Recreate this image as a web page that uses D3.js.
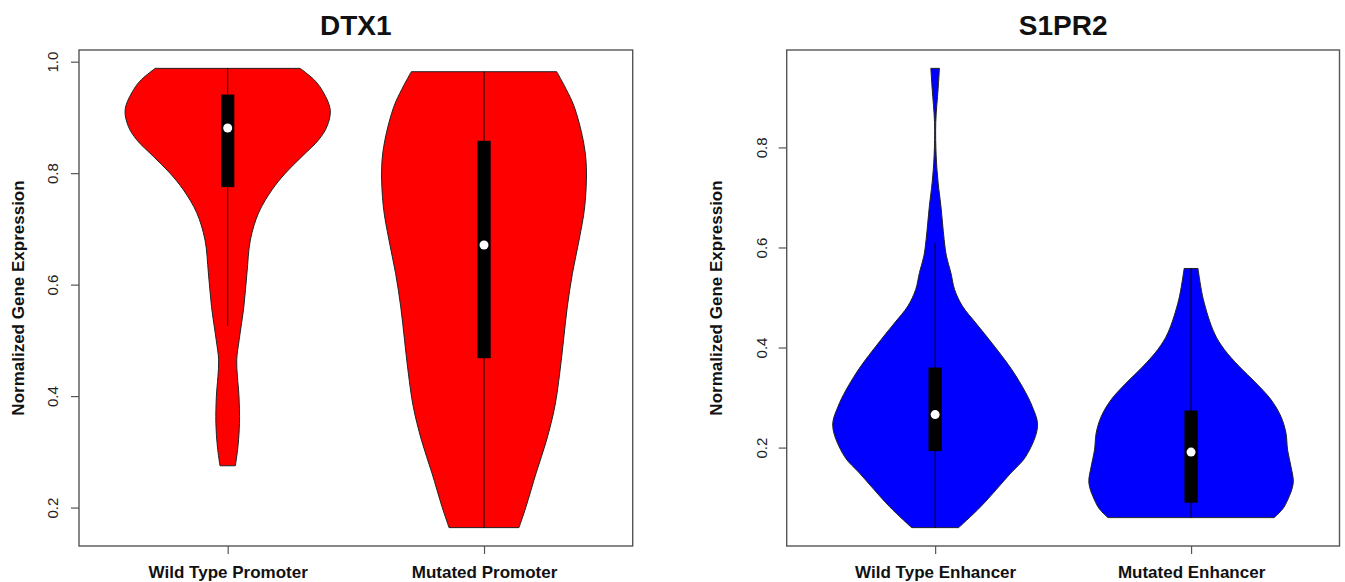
<!DOCTYPE html>
<html>
<head>
<meta charset="utf-8">
<script src="https://cdn.jsdelivr.net/npm/d3@7"></script>
<style>
  html, body { margin: 0; padding: 0; background: #fff; }
  svg { display: block; }
  text { font-family: "Liberation Sans", Arial, sans-serif; }
</style>
</head>
<body>
<svg id="chart" width="1345" height="582"></svg>
<script>
// ---------------- DATA ----------------
const titles = ["DTX1", "S1PR2"];
const categoriesDTX1 = ["Wild Type Promoter", "Mutated Promoter"];
const categoriesS1PR2 = ["Wild Type Enhancer", "Mutated Enhancer"];
const yTicksDTX1 = [0.2, 0.4, 0.6, 0.8, 1.0];
const yTicksS1PR2 = [0.2, 0.4, 0.6, 0.8];
const yLabel = "Normalized Gene Expression";

// violin outlines: [value, relative density (1 = widest)]
const densityWTPromoter = [
  [0.988, 0.707], [0.968, 0.84], [0.950, 0.917], [0.914, 1.0], [0.884, 0.969],
  [0.860, 0.888], [0.830, 0.725], [0.800, 0.563], [0.770, 0.432], [0.729, 0.302],
  [0.680, 0.221], [0.621, 0.188], [0.561, 0.158], [0.501, 0.112], [0.465, 0.088],
  [0.435, 0.095], [0.400, 0.110], [0.351, 0.115], [0.309, 0.100], [0.275, 0.075]
];
const densityMutPromoter = [
  [0.982, 0.709], [0.950, 0.803], [0.920, 0.878], [0.860, 0.966], [0.812, 0.998],
  [0.740, 0.982], [0.680, 0.927], [0.620, 0.862], [0.560, 0.812], [0.500, 0.775],
  [0.441, 0.738], [0.381, 0.690], [0.321, 0.610], [0.262, 0.508], [0.200, 0.407],
  [0.164, 0.341]
];
const densityWTEnhancer = [
  [0.958, 0.042], [0.917, 0.029], [0.850, 0.006], [0.783, 0.010], [0.730, 0.029],
  [0.683, 0.056], [0.616, 0.088], [0.583, 0.110], [0.550, 0.153], [0.516, 0.190],
  [0.483, 0.266], [0.449, 0.397], [0.416, 0.527], [0.349, 0.771], [0.282, 0.949],
  [0.242, 1.0], [0.182, 0.885], [0.149, 0.739], [0.082, 0.446], [0.040, 0.229]
];
const densityMutEnhancer = [
  [0.558, 0.068], [0.496, 0.120], [0.429, 0.227], [0.396, 0.325], [0.362, 0.471],
  [0.329, 0.634], [0.296, 0.780], [0.262, 0.878], [0.229, 0.927], [0.195, 0.943],
  [0.162, 0.976], [0.129, 0.998], [0.095, 0.943], [0.077, 0.894], [0.060, 0.813]
];

// box stats: [lower whisker, Q1, median, Q3, upper whisker]
const statsWTPromoter = [0.526, 0.775, 0.881, 0.941, 0.988];
const statsMutPromoter = [0.164, 0.468, 0.671, 0.858, 0.982];
const statsWTEnhancer = [0.040, 0.193, 0.266, 0.360, 0.609];
const statsMutEnhancer = [0.060, 0.090, 0.191, 0.274, 0.558];

const colorDTX1 = "#ff0000";
const colorS1PR2 = "#0000ff";

// ---------------- DRAW ----------------
const svg = d3.select("#chart");
const FONT = '"Liberation Sans", Arial, sans-serif';

function drawPanel(cfg) {
  const g = svg.append("g");
  const top = 50, bottom = 546;
  const x = d3.scaleLinear().domain([0.42, 2.58]).range([cfg.left, cfg.right]);
  const allVals = cfg.densities.flatMap(d => d.map(p => p[0]));
  const mn = d3.min(allVals), mx = d3.max(allVals), r = mx - mn;
  const y = d3.scaleLinear().domain([mn - 0.04 * r, mx + 0.04 * r]).range([bottom, top]);
  const halfMax = 0.4, boxHalf = 0.026;

  cfg.densities.forEach((dens, i) => {
    const c = i + 1;
    const area = d3.area()
      .y(d => y(d[0]))
      .x0(d => x(c - d[1] * halfMax))
      .x1(d => x(c + d[1] * halfMax))
      .curve(d3.curveCatmullRom.alpha(0.5));
    g.append("path").attr("d", area(dens))
      .attr("fill", cfg.color).attr("stroke", "#222").attr("stroke-width", 1);
    const s = cfg.stats[i];
    g.append("line")
      .attr("x1", x(c)).attr("x2", x(c))
      .attr("y1", y(s[0])).attr("y2", y(s[4]))
      .attr("stroke", "#000").attr("stroke-width", 1);
    g.append("rect")
      .attr("x", x(c - boxHalf)).attr("width", x(c + boxHalf) - x(c - boxHalf))
      .attr("y", y(s[3])).attr("height", y(s[1]) - y(s[3]))
      .attr("fill", "#000");
    g.append("circle").attr("cx", x(c)).attr("cy", y(s[2])).attr("r", 4.5).attr("fill", "#fff");
  });

  // frame
  g.append("rect").attr("x", cfg.left).attr("y", top)
    .attr("width", cfg.right - cfg.left).attr("height", bottom - top)
    .attr("fill", "none").attr("stroke", "#555").attr("stroke-width", 1.4);

  // y axis
  const ya = g.append("g").attr("transform", `translate(${cfg.left},0)`)
    .call(d3.axisLeft(y).tickValues(cfg.yTicks).tickSize(8).tickFormat(d3.format(".1f")));
  ya.select(".domain").remove();
  ya.selectAll(".tick line").attr("stroke", "#555").attr("stroke-width", 1.2);
  ya.selectAll(".tick text")
    .attr("x", null).attr("dy", null)
    .attr("transform", `translate(${-cfg.tickOff},0) rotate(-90)`)
    .attr("text-anchor", "middle")
    .attr("font-family", FONT).attr("font-size", 15).attr("fill", "#222");

  // x axis
  const xa = g.append("g").attr("transform", `translate(0,${bottom})`)
    .call(d3.axisBottom(x).tickValues([1, 2]).tickSize(8).tickFormat((d, i) => cfg.cats[i]));
  xa.select(".domain").remove();
  xa.selectAll(".tick line").attr("stroke", "#555").attr("stroke-width", 1.2);
  xa.selectAll(".tick text")
    .attr("y", 32).attr("dy", null)
    .attr("font-family", FONT).attr("font-size", 17).attr("font-weight", "bold").attr("fill", "#111");

  // y label
  g.append("text")
    .attr("transform", `translate(${cfg.left - cfg.labOff},${(top + bottom) / 2}) rotate(-90)`)
    .attr("text-anchor", "middle")
    .attr("font-size", 17).attr("font-weight", "bold").attr("fill", "#111")
    .text(yLabel);

  // title
  g.append("text")
    .attr("x", (cfg.left + cfg.right) / 2).attr("y", 35)
    .attr("text-anchor", "middle")
    .attr("font-size", 28).attr("font-weight", "bold").attr("fill", "#111")
    .text(cfg.title);
}

drawPanel({
  left: 79, right: 632.7, title: titles[0], cats: categoriesDTX1, yTicks: yTicksDTX1,
  densities: [densityWTPromoter, densityMutPromoter],
  stats: [statsWTPromoter, statsMutPromoter], color: colorDTX1,
  tickOff: 21.5, labOff: 55
});
drawPanel({
  left: 786.7, right: 1339.5, title: titles[1], cats: categoriesS1PR2, yTicks: yTicksS1PR2,
  densities: [densityWTEnhancer, densityMutEnhancer],
  stats: [statsWTEnhancer, statsMutEnhancer], color: colorS1PR2,
  tickOff: 20, labOff: 64.5
});
</script>
</body>
</html>
